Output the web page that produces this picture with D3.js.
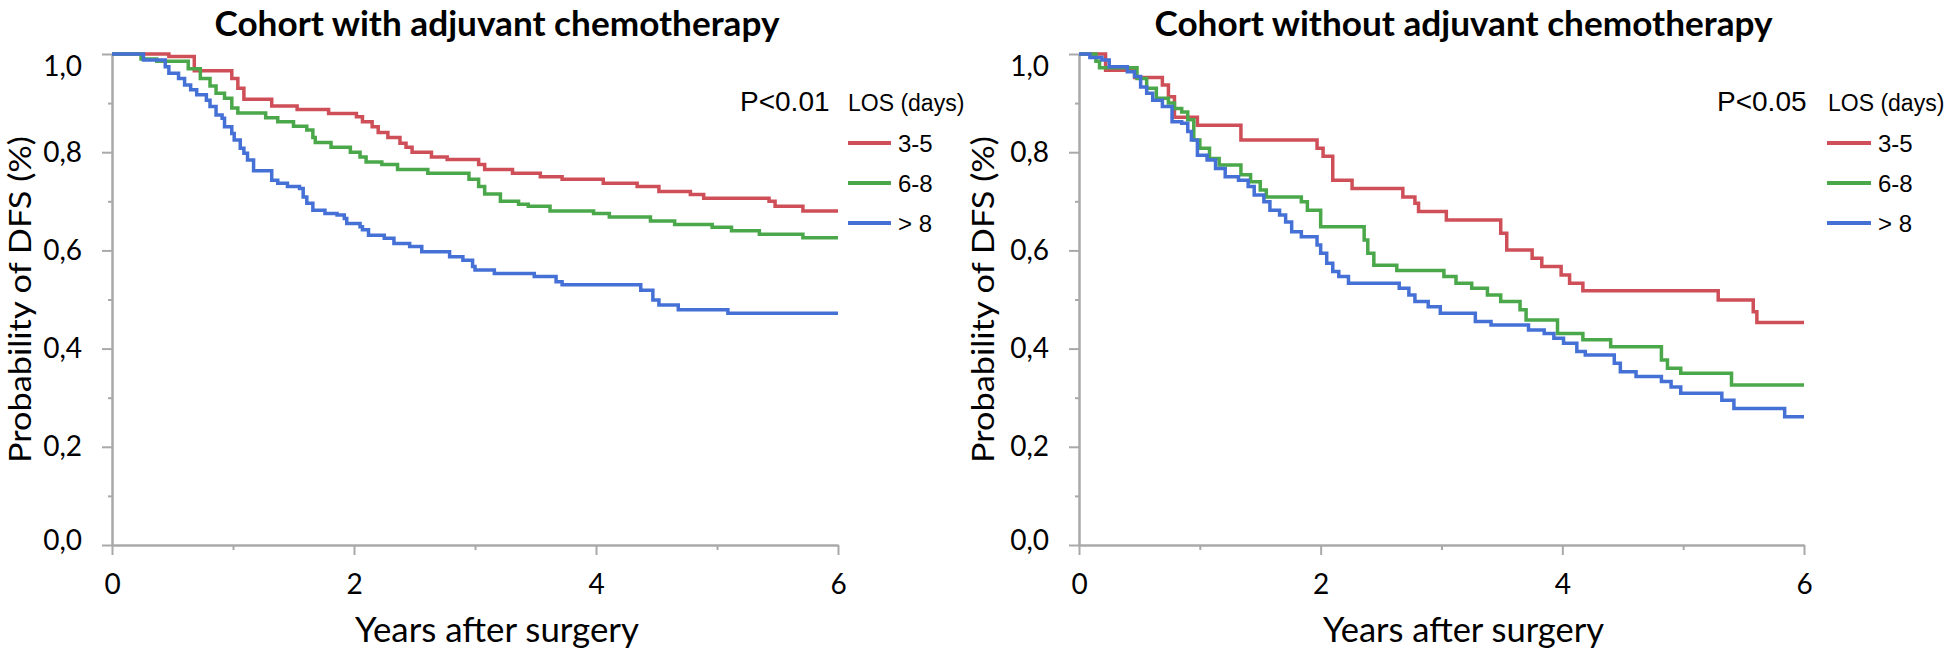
<!DOCTYPE html>
<html>
<head>
<meta charset="utf-8">
<script src="https://cdn.jsdelivr.net/npm/d3@7"></script>
<style>
  html, body { margin: 0; padding: 0; background: #fff; }
  svg { display: block; }
</style>
</head>
<body>
<svg id="chart" width="1952" height="652"></svg>
<script>
// ---------------- DATA ----------------
const seriesNames = ["3-5", "6-8", "> 8"];
const panelTitles = ["Cohort with adjuvant chemotherapy", "Cohort without adjuvant chemotherapy"];
const pValues = ["P<0.01", "P<0.05"];
const legendTitle = "LOS (days)";
const xTicks = [0, 2, 4, 6];
const xMinorTicks = [1, 3, 5];
const yTicks = [0, 0.2, 0.4, 0.6, 0.8, 1.0];
const yMinorTicks = [0.1, 0.3, 0.5, 0.7, 0.9];
const xLabel = "Years after surgery";
const yLabel = "Probability of DFS (%)";

// Cohort with adjuvant chemotherapy
const withRedT = [0, 0.47, 0.68, 0.99, 1.04, 1.09, 1.32, 1.53, 1.79, 2.02, 2.07, 2.15, 2.20, 2.28, 2.38, 2.43, 2.48, 2.64, 2.77, 3.03, 3.08, 3.31, 3.54, 3.72, 4.06, 4.34, 4.52, 4.78, 4.89, 5.43, 5.48, 5.71, 6.0];
const withRedS = [1.0, 0.995, 0.966, 0.95, 0.93, 0.908, 0.894, 0.887, 0.879, 0.872, 0.862, 0.852, 0.84, 0.83, 0.818, 0.81, 0.80, 0.79, 0.785, 0.775, 0.765, 0.757, 0.75, 0.745, 0.737, 0.73, 0.72, 0.714, 0.706, 0.70, 0.69, 0.68, 0.68];
const withGreenT = [0, 0.24, 0.37, 0.63, 0.73, 0.81, 0.86, 0.93, 0.99, 1.04, 1.27, 1.37, 1.50, 1.61, 1.66, 1.68, 1.81, 1.97, 2.05, 2.10, 2.23, 2.36, 2.61, 2.95, 3.03, 3.08, 3.21, 3.36, 3.44, 3.62, 3.98, 4.11, 4.45, 4.65, 4.96, 5.12, 5.35, 5.71, 6.0];
const withGreenS = [1.0, 0.99, 0.985, 0.97, 0.95, 0.935, 0.92, 0.91, 0.89, 0.88, 0.87, 0.862, 0.853, 0.845, 0.83, 0.82, 0.81, 0.80, 0.79, 0.78, 0.775, 0.765, 0.757, 0.745, 0.73, 0.715, 0.70, 0.694, 0.69, 0.68, 0.675, 0.668, 0.66, 0.653, 0.647, 0.64, 0.633, 0.626, 0.626];
const withBlueT = [0, 0.26, 0.44, 0.47, 0.55, 0.60, 0.65, 0.70, 0.78, 0.81, 0.86, 0.91, 0.93, 0.99, 1.01, 1.06, 1.09, 1.12, 1.17, 1.32, 1.37, 1.45, 1.55, 1.58, 1.61, 1.66, 1.76, 1.86, 1.92, 1.94, 2.05, 2.07, 2.12, 2.25, 2.33, 2.46, 2.56, 2.79, 2.90, 2.98, 3.00, 3.16, 3.49, 3.67, 3.72, 4.37, 4.47, 4.52, 4.68, 5.09, 6.0];
const withBlueS = [1.0, 0.988, 0.974, 0.961, 0.950, 0.937, 0.927, 0.917, 0.906, 0.893, 0.876, 0.869, 0.852, 0.838, 0.825, 0.808, 0.798, 0.784, 0.762, 0.743, 0.737, 0.730, 0.726, 0.709, 0.696, 0.682, 0.675, 0.672, 0.665, 0.655, 0.648, 0.642, 0.631, 0.625, 0.614, 0.608, 0.597, 0.587, 0.580, 0.567, 0.560, 0.553, 0.547, 0.536, 0.530, 0.519, 0.499, 0.489, 0.479, 0.472, 0.472];

// Cohort without adjuvant chemotherapy
const withoutRedT = [0, 0.22, 0.46, 0.69, 0.74, 0.79, 0.98, 1.34, 1.97, 2.02, 2.10, 2.26, 2.68, 2.78, 2.81, 3.04, 3.49, 3.54, 3.75, 3.83, 3.99, 4.06, 4.17, 5.29, 5.58, 5.61, 6.0];
const withoutRedS = [1.0, 0.967, 0.952, 0.937, 0.913, 0.871, 0.855, 0.825, 0.808, 0.792, 0.743, 0.726, 0.709, 0.696, 0.679, 0.662, 0.635, 0.601, 0.584, 0.567, 0.550, 0.533, 0.518, 0.499, 0.475, 0.453, 0.453];
const withoutGreenT = [0, 0.14, 0.17, 0.48, 0.56, 0.64, 0.74, 0.79, 0.85, 0.90, 0.95, 1.00, 1.08, 1.16, 1.34, 1.42, 1.50, 1.55, 1.84, 1.89, 2.00, 2.36, 2.39, 2.44, 2.63, 3.02, 3.12, 3.25, 3.38, 3.49, 3.65, 3.70, 3.96, 4.17, 4.40, 4.82, 4.87, 4.98, 5.40, 6.0];
const withoutGreenS = [1.0, 0.985, 0.972, 0.95, 0.93, 0.91, 0.90, 0.889, 0.882, 0.866, 0.825, 0.808, 0.787, 0.774, 0.754, 0.740, 0.723, 0.709, 0.699, 0.682, 0.648, 0.621, 0.594, 0.570, 0.559, 0.547, 0.533, 0.523, 0.509, 0.496, 0.479, 0.458, 0.431, 0.418, 0.404, 0.377, 0.360, 0.350, 0.326, 0.326];
const withoutBlueT = [0, 0.09, 0.19, 0.25, 0.40, 0.46, 0.51, 0.56, 0.61, 0.69, 0.77, 0.85, 0.90, 0.93, 0.98, 1.06, 1.13, 1.21, 1.32, 1.40, 1.45, 1.53, 1.58, 1.66, 1.71, 1.76, 1.84, 1.97, 2.00, 2.05, 2.10, 2.15, 2.23, 2.65, 2.73, 2.78, 2.89, 2.99, 3.28, 3.41, 3.72, 3.85, 3.93, 4.01, 4.12, 4.19, 4.43, 4.48, 4.61, 4.82, 4.90, 4.98, 5.32, 5.42, 5.84, 6.0];
const withoutBlueS = [1.0, 0.993, 0.988, 0.974, 0.964, 0.954, 0.933, 0.920, 0.906, 0.893, 0.862, 0.859, 0.842, 0.825, 0.794, 0.784, 0.767, 0.750, 0.743, 0.730, 0.713, 0.699, 0.682, 0.672, 0.658, 0.638, 0.628, 0.611, 0.594, 0.574, 0.557, 0.547, 0.533, 0.523, 0.509, 0.496, 0.485, 0.472, 0.455, 0.448, 0.438, 0.431, 0.421, 0.411, 0.394, 0.387, 0.370, 0.353, 0.343, 0.333, 0.322, 0.309, 0.295, 0.278, 0.261, 0.261];

// ---------------- STYLE / LAYOUT ----------------
const colors = ["#cf4f58", "#4aa84a", "#4571d6"];
const axisColor = "#a9a9a9";
const calibriLike = "Lato, 'Open Sans', sans-serif";
const helvLike = "'Liberation Sans', Arial, sans-serif";

const panels = [
  { x0: 112, x1: 838, yTop: 54, yBot: 545, titleW: 565, xLabW: 284, yLabX: 31, pX: 740, losX: 848, lineX0: 848, lineX1: 891, itemX: 898,
    series: [[withRedT, withRedS], [withGreenT, withGreenS], [withBlueT, withBlueS]] },
  { x0: 1079, x1: 1804, yTop: 54, yBot: 545, titleW: 618, xLabW: 281, yLabX: 994, pX: 1717, losX: 1828, lineX0: 1827, lineX1: 1871, itemX: 1878,
    series: [[withoutRedT, withoutRedS], [withoutGreenT, withoutGreenS], [withoutBlueT, withoutBlueS]] }
];

const svg = d3.select("#chart");
const fmtY = d => d3.format(".1f")(d).replace(".", ",");
const fmtX = d3.format("d");

panels.forEach((p, pi) => {
  const x = d3.scaleLinear().domain([0, 6]).range([p.x0, p.x1]);
  const y = d3.scaleLinear().domain([0, 1]).range([p.yBot, p.yTop]);
  const g = svg.append("g");
  const cx = (p.x0 + p.x1) / 2 + 22;

  // Title
  g.append("text").attr("x", cx).attr("y", 36).attr("text-anchor", "middle")
    .attr("font-family", calibriLike).attr("font-weight", "bold").attr("font-size", 34)
    .attr("textLength", p.titleW).attr("lengthAdjust", "spacingAndGlyphs")
    .attr("fill", "#000").text(panelTitles[pi]);

  // Y axis minor
  const yMinor = g.append("g").attr("transform", `translate(${p.x0},0)`)
    .call(d3.axisLeft(y).tickValues(yMinorTicks).tickSize(4).tickSizeOuter(0).tickFormat(""));
  // Y axis major
  const yAx = g.append("g").attr("transform", `translate(${p.x0},0)`)
    .call(d3.axisLeft(y).tickValues(yTicks).tickSize(10).tickSizeOuter(0).tickPadding(20).tickFormat(fmtY));
  // X axis minor
  const xMinor = g.append("g").attr("transform", `translate(0,${p.yBot})`)
    .call(d3.axisBottom(x).tickValues(xMinorTicks).tickSize(5).tickSizeOuter(0).tickFormat(""));
  const xAx = g.append("g").attr("transform", `translate(0,${p.yBot})`)
    .call(d3.axisBottom(x).tickValues(xTicks).tickSize(10).tickSizeOuter(0).tickPadding(19).tickFormat(fmtX));

  [yMinor, yAx, xMinor, xAx].forEach(a => {
    a.selectAll("path.domain").attr("stroke", axisColor).attr("stroke-width", 2);
    a.selectAll(".tick line").attr("stroke", axisColor).attr("stroke-width", 2);
    a.selectAll(".tick text").attr("fill", "#000").attr("font-family", calibriLike).attr("font-size", 28);
  });
  // top and bottom y labels sit slightly inward, as in the source figure
  yAx.selectAll(".tick text").attr("dy", d => d === 1 ? "0.75em" : (d === 0 ? "0.15em" : "0.32em"));

  // Axis labels
  g.append("text").attr("x", cx).attr("y", 642).attr("text-anchor", "middle")
    .attr("font-family", calibriLike).attr("font-size", 35)
    .attr("textLength", p.xLabW).attr("lengthAdjust", "spacingAndGlyphs")
    .attr("fill", "#000").text(xLabel);
  g.append("text").attr("transform", `translate(${p.yLabX},${(p.yTop + p.yBot) / 2}) rotate(-90)`)
    .attr("text-anchor", "middle")
    .attr("font-family", calibriLike).attr("font-size", 30)
    .attr("textLength", 327).attr("lengthAdjust", "spacingAndGlyphs")
    .attr("fill", "#000").text(yLabel);

  // Curves
  const line = d3.line().x(d => x(d[0])).y(d => y(d[1])).curve(d3.curveStepAfter);
  p.series.forEach((s, si) => {
    const pts = s[0].map((t, i) => [t, s[1][i]]);
    g.append("path").datum(pts).attr("d", line)
      .attr("fill", "none").attr("stroke", colors[si]).attr("stroke-width", 3.5)
      .attr("stroke-linejoin", "miter");
  });

  // Legend
  g.append("text").attr("x", p.pX).attr("y", 111).attr("font-family", helvLike).attr("font-size", 28)
    .attr("fill", "#000").text(pValues[pi]);
  g.append("text").attr("x", p.losX).attr("y", 111).attr("font-family", helvLike).attr("font-size", 23)
    .attr("fill", "#000").text(legendTitle);
  seriesNames.forEach((name, si) => {
    const ly = 143 + si * 40;
    g.append("line").attr("x1", p.lineX0).attr("x2", p.lineX1).attr("y1", ly).attr("y2", ly)
      .attr("stroke", colors[si]).attr("stroke-width", 4);
    g.append("text").attr("x", p.itemX).attr("y", ly + 9).attr("font-family", helvLike).attr("font-size", 24)
      .attr("fill", "#000").text(name);
  });
});
</script>
</body>
</html>
